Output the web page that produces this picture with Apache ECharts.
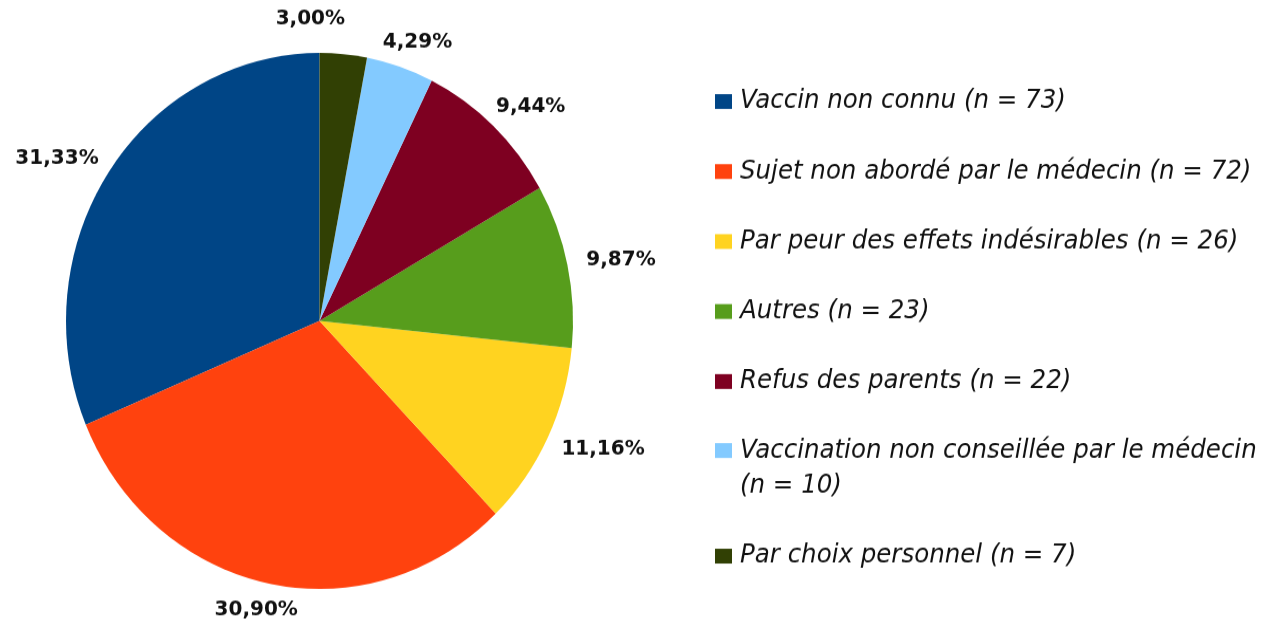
<!DOCTYPE html>
<html>
<head>
<meta charset="utf-8">
<script src="https://cdn.jsdelivr.net/npm/echarts@6/dist/echarts.min.js"></script>
<style>
  html, body { margin: 0; padding: 0; background: #fff; overflow: hidden; width: 1274px; height: 628px; }
  /* the original picture is stretched vertically, so is this one */
  #chart { width: 1274px; height: 640px; transform: scaleY(1.0572); transform-origin: 0 0; }
</style>
</head>
<body>
<div id="chart"></div>
<script>
// raisons de non-vaccination
const categories = [
  "Vaccin non connu",
  "Sujet non abordé par le médecin",
  "Par peur des effets indésirables",
  "Autres",
  "Refus des parents",
  "Vaccination non conseillée par le médecin",
  "Par choix personnel"
];
const counts = [73, 72, 26, 23, 22, 10, 7];
const colors = ["#004586", "#ff420e", "#ffd320", "#579d1c", "#7e0021", "#83caff", "#314004"];

const total = counts.reduce((a, b) => a + b, 0);
let names = categories.map((c, i) => c + " (n = " + counts[i] + ")");
let pieData = names.map((n, i) => ({ name: n, value: counts[i] }));

const cx = 319.5, cy = 303.6;
const rowH = 33.1;

let legendText = {
  fontFamily: "DejaVu Sans",
  fontStyle: "italic",
  fontSize: 24.5,
  color: "#111",
  lineHeight: rowH,
  padding: [0, 0, 0, 3]
};
let legendBase = {
  orient: "vertical",
  left: 715,
  padding: 0,
  itemWidth: 17,
  itemHeight: 14,
  itemGap: rowH,
  icon: "rect",
  textStyle: legendText
};

let chart = echarts.init(document.getElementById("chart"));
let option = {
  animation: false,
  color: colors,
  legend: [
    Object.assign({}, legendBase, { top: 79.5, data: names.slice(0, 5) }),
    // the wrapped entry: a blank first row keeps its square on the text's first line
    Object.assign({}, legendBase, {
      top: 376.5,
      data: names.slice(5, 6),
      formatter: name => "\u00a0\n" + name.replace(" (n", "\n(n")
    }),
    Object.assign({}, legendBase, { top: 509.5, data: names.slice(6) })
  ],
  series: [
    {
      type: "pie",
      center: [cx, cy],
      radius: 253.5,
      startAngle: 90,
      clockwise: false,
      avoidLabelOverlap: false,
      data: pieData,
      label: {
        position: "outside",
        distanceToLabelLine: 0,
        fontFamily: "DejaVu Sans",
        fontWeight: "bold",
        fontSize: 20,
        color: "#111",
        formatter: p => (p.value / total * 100).toFixed(2).replace(".", ",") + "%"
      },
      labelLine: { show: false, length: 20, length2: 0 },
      // push each label out so that its box sits just off the slice
      labelLayout: function (p) {
        let r = p.labelRect;
        let ax = p.align === "left" ? r.x : (p.align === "right" ? r.x + r.width : r.x + r.width / 2);
        let ay = r.y + r.height / 2;
        let dx = ax - cx, dy = ay - cy;
        let len = Math.sqrt(dx * dx + dy * dy);
        let x = ax + dx / len * r.width / 2;
        let y = ay + dy / len * r.height / 4;
        if (p.dataIndex === counts.length - 1) {
          // small top slice: nudged aside from its neighbour like the original
          x -= r.width * 0.55;
          y -= r.height * 0.45;
        }
        return { x: x, y: y, align: "center", verticalAlign: "middle" };
      },
      emphasis: { disabled: true }
    }
  ]
};
chart.setOption(option);
</script>
</body>
</html>
